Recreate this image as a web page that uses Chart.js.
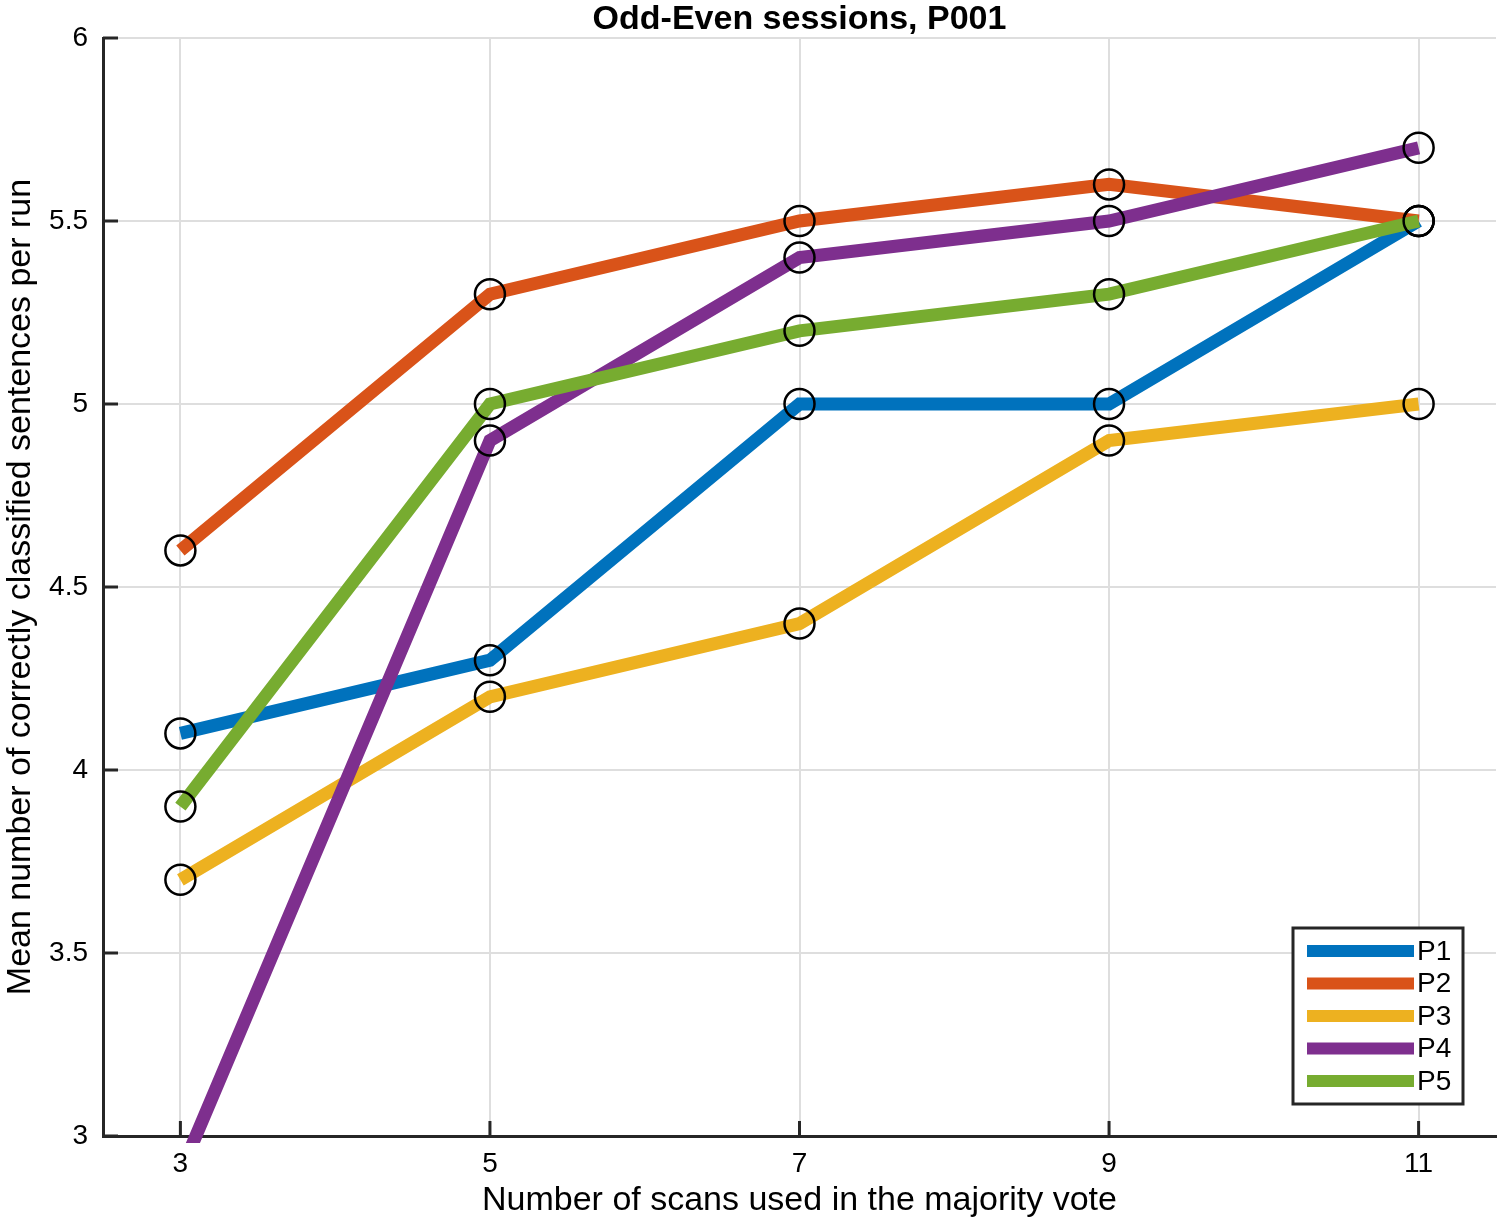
<!DOCTYPE html>
<html>
<head>
<meta charset="utf-8">
<title>Odd-Even sessions, P001</title>
<script src="https://cdn.jsdelivr.net/npm/chart.js@4"></script>
<style>
    html, body { margin: 0; padding: 0; background: #fff; overflow: hidden; }
    #wrap { width: 1500px; height: 1222px; }
    #chartCanvas { display: block; }
</style>
</head>
<body>
<div id="wrap"><canvas id="chartCanvas"></canvas></div>
<script>
// values
const scans = [3, 5, 7, 9, 11];
const xTicks = [3, 5, 7, 9, 11];
const seriesNames = ['P1', 'P2', 'P3', 'P4', 'P5'];
const p1 = [4.1, 4.3, 5.0, 5.0, 5.5];
const p2 = [4.6, 5.3, 5.5, 5.6, 5.5];
const p3 = [3.7, 4.2, 4.4, 4.9, 5.0];
const p4 = [2.9, 4.9, 5.4, 5.5, 5.7];
const p5 = [3.9, 5.0, 5.2, 5.3, 5.5];
const seriesColors = ['#0072BD', '#D95319', '#EDB120', '#7E2F8E', '#77AC30'];

const FONT = "'Liberation Sans', Arial, sans-serif";
const AXIS_COLOR = '#262626';

function toPoints(values) {
    return scans.map((x, i) => ({ x, y: values[i] }));
}

const allSeries = [p1, p2, p3, p4, p5];
const datasets = allSeries.map((values, i) => ({
    label: seriesNames[i],
    data: toPoints(values),
    borderColor: seriesColors[i],
    backgroundColor: seriesColors[i],
    borderWidth: 13,
    tension: 0,
    pointRadius: 15,
    pointHoverRadius: 15,
    pointBorderWidth: 2.5,
    pointBorderColor: '#000',
    pointBackgroundColor: 'rgba(0,0,0,0)',
    order: allSeries.length - i, // later series drawn on top, like the original
    clip: { left: 0, top: 0, right: 0, bottom: 7 },
}));

// inward tick marks on the two axes
const inwardTicks = {
    id: 'inwardTicks',
    beforeDatasetsDraw(chart) {
        const { ctx, chartArea, scales } = chart;
        const len = 15;
        ctx.save();
        ctx.strokeStyle = AXIS_COLOR;
        ctx.lineWidth = 3;
        ctx.beginPath();
        scales.x.ticks.forEach((t) => {
            const px = scales.x.getPixelForValue(t.value);
            ctx.moveTo(px, chartArea.bottom);
            ctx.lineTo(px, chartArea.bottom - len);
        });
        scales.y.ticks.forEach((t) => {
            const py = scales.y.getPixelForValue(t.value);
            ctx.moveTo(chartArea.left, py);
            ctx.lineTo(chartArea.left + len, py);
        });
        ctx.stroke();
        ctx.restore();
    },
};

// boxed legend in the lower right corner of the plot
const boxLegend = {
    id: 'boxLegend',
    afterDatasetsDraw(chart) {
        const { ctx, chartArea } = chart;
        const boxW = 170, boxH = 176;
        const bx = chartArea.right - 33 - boxW;
        const by = chartArea.bottom - 32 - boxH;
        ctx.save();
        ctx.fillStyle = '#fff';
        ctx.fillRect(bx, by, boxW, boxH);
        ctx.strokeStyle = AXIS_COLOR;
        ctx.lineWidth = 3;
        ctx.strokeRect(bx, by, boxW, boxH);
        ctx.font = `28px ${FONT}`;
        ctx.textBaseline = 'middle';
        ctx.textAlign = 'left';
        chart.data.datasets.forEach((ds, i) => {
            const y = by + 23 + i * 32.5;
            ctx.strokeStyle = ds.borderColor;
            ctx.lineWidth = 12;
            ctx.beginPath();
            ctx.moveTo(bx + 14, y);
            ctx.lineTo(bx + 121, y);
            ctx.stroke();
            ctx.fillStyle = '#000';
            ctx.fillText(ds.label, bx + 124, y + 1);
        });
        ctx.restore();
    },
};

const ctx = document.getElementById('chartCanvas').getContext('2d');
new Chart(ctx, {
    type: 'line',
    data: { datasets },
    options: {
        responsive: true,
        maintainAspectRatio: false,
        animation: false,
        devicePixelRatio: 1,
        layout: { autoPadding: false, padding: { left: 0, right: 4, top: 0, bottom: 0 } },
        plugins: {
            legend: { display: false },
            tooltip: { enabled: false },
            title: {
                display: true,
                fullSize: false,
                text: 'Odd-Even sessions, P001',
                color: '#000',
                font: { family: FONT, size: 34, weight: 'bold', lineHeight: 1 },
                padding: { top: 3, bottom: 1 },
            },
        },
        scales: {
            x: {
                type: 'linear',
                min: 2.5,
                max: 11.5,
                afterBuildTicks: (scale) => {
                    scale.ticks = xTicks.map((v) => ({ value: v }));
                },
                afterFit: (scale) => { scale.height = 86; },
                grid: { color: '#dedede', lineWidth: 2, drawTicks: false },
                border: { color: AXIS_COLOR, width: 3 },
                ticks: {
                    color: '#000',
                    padding: 11,
                    font: { family: FONT, size: 28 },
                    maxRotation: 0,
                },
                title: {
                    display: true,
                    text: 'Number of scans used in the majority vote',
                    color: '#000',
                    font: { family: FONT, size: 34 },
                    padding: { top: 0, bottom: 1 },
                },
            },
            y: {
                type: 'linear',
                min: 3,
                max: 6,
                afterFit: (scale) => { scale.width = 103; },
                grid: { color: '#dedede', lineWidth: 2, drawTicks: false },
                border: { color: AXIS_COLOR, width: 3 },
                ticks: {
                    stepSize: 0.5,
                    color: '#000',
                    padding: 15,
                    font: { family: FONT, size: 28 },
                    callback: (value) => String(value),
                },
                title: {
                    display: true,
                    text: 'Mean number of correctly classified sentences per run',
                    color: '#000',
                    font: { family: FONT, size: 34 },
                    padding: { top: 0, bottom: 0 },
                },
            },
        },
    },
    plugins: [inwardTicks, boxLegend],
});
</script>
</body>
</html>
